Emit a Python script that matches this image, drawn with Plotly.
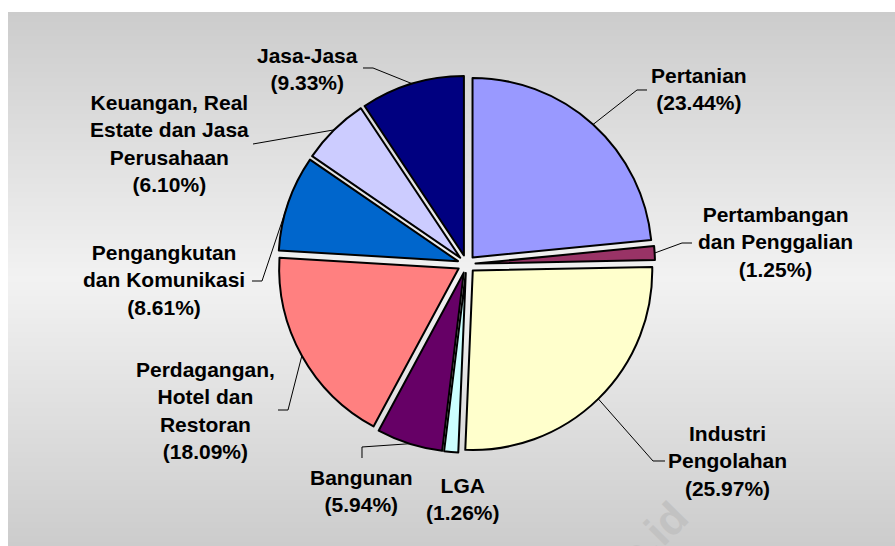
import math
import plotly.graph_objects as go

# Data: share of each sector (%), clockwise from 12 o'clock
sectors = ["Pertanian", "Pertambangan dan Penggalian", "Industri Pengolahan", "LGA",
           "Bangunan", "Perdagangan, Hotel dan Restoran", "Pengangkutan dan Komunikasi",
           "Keuangan, Real Estate dan Jasa Perusahaan", "Jasa-Jasa"]
label_lines = ["Pertanian", "Pertambangan<br>dan Penggalian", "Industri<br>Pengolahan", "LGA",
               "Bangunan", "Perdagangan,<br>Hotel dan<br>Restoran", "Pengangkutan<br>dan Komunikasi",
               "Keuangan, Real<br>Estate dan Jasa<br>Perusahaan", "Jasa-Jasa"]
shares = [23.44, 1.25, 25.97, 1.26, 5.94, 18.09, 8.61, 6.10, 9.33]
colors = ["#9999FF", "#993366", "#FFFFCC", "#CCFFFF", "#660066",
          "#FF8080", "#0066CC", "#CCCCFF", "#000080"]

# Layout (pixels)
W, H = 895, 546
CX, CY, R = 466.5, 264.1, 179.5
PULL = 0.05
FONT = "Liberation Sans, Arial, sans-serif"

# label block centre, leader knee, leader end (None = no leader)
label_pos = [(699, 89), (775, 242), (727.5, 461), (463, 499), (361, 491),
             (205, 410), (164, 280), (169.5, 144), (307.5, 69)]
leader_pts = [((637, 90), (647, 90)), ((682, 243), (692, 243)), ((653, 461), (665, 461)),
              None, ((362, 447), (362, 458)), ((288, 410), (278, 410)),
              ((262, 281), (252, 281)), ((253, 144), (253, 144)), ((373, 68), (363, 68))]


def px(x):
    return x / W


def py(y):
    return 1 - y / H


half = R * (1 + PULL)
fig = go.Figure(go.Pie(
    labels=sectors, values=shares, sort=False, direction="clockwise", rotation=0,
    marker=dict(colors=colors, line=dict(color="black", width=2)),
    pull=[PULL] * len(shares), textinfo="none", hoverinfo="none",
    domain=dict(x=[px(CX - half), px(CX + half)], y=[py(CY + half), py(CY - half)]),
    showlegend=False))

# gradient panel behind the pie
shapes = []
top, bot, mid = 12, H, (12 + H) / 2
step = 2
y = top
while y < bot:
    t = abs((y + step / 2) - mid) / (mid - top)
    g = int(round(242 - (242 - 204) * t))
    col = "rgb(%d,%d,%d)" % (g, g, g)
    shapes.append(dict(type="rect", xref="paper", yref="paper", layer="below",
                       x0=px(8), x1=1.0, y0=py(min(y + step + 0.5, bot)), y1=py(y),
                       fillcolor=col, line=dict(width=0)))
    y += step

# labels and leader lines
total = sum(shares)
annotations = []
cum = 0
for i, v in enumerate(shares):
    mid_ang = math.radians((cum + v / 2) / total * 360)
    cum += v
    rr = R * (1 + PULL)
    ax_, ay_ = CX + rr * math.sin(mid_ang), CY - rr * math.cos(mid_ang)
    tx, ty = label_pos[i]
    annotations.append(dict(
        x=px(tx), y=py(ty), xref="paper", yref="paper", showarrow=False,
        xanchor="center", yanchor="middle", align="center",
        text="%s<br>(%.2f%%)" % (label_lines[i], v),
        font=dict(family=FONT, size=21, color="black", weight="bold")))
    if leader_pts[i] is not None:
        (kx, ky), (ex, ey) = leader_pts[i]
        shapes.append(dict(type="path", xref="paper", yref="paper",
                           path="M %f,%f L %f,%f L %f,%f" % (px(ax_), py(ay_), px(kx), py(ky), px(ex), py(ey)),
                           line=dict(color="black", width=1)))

# faint watermark
annotations.append(dict(x=px(700), y=py(668), xref="paper", yref="paper", showarrow=False,
                        text="bps.go.id", textangle=-45,
                        font=dict(family=FONT, size=44, color="#c2c2c2", weight="bold")))

fig.update_layout(width=W, height=H, margin=dict(l=0, r=0, t=0, b=0),
                  paper_bgcolor="white", plot_bgcolor="white",
                  shapes=shapes, annotations=annotations)

fig.write_html("out.html", config={"displayModeBar": False},
               post_script="document.body.style.margin='0';")
